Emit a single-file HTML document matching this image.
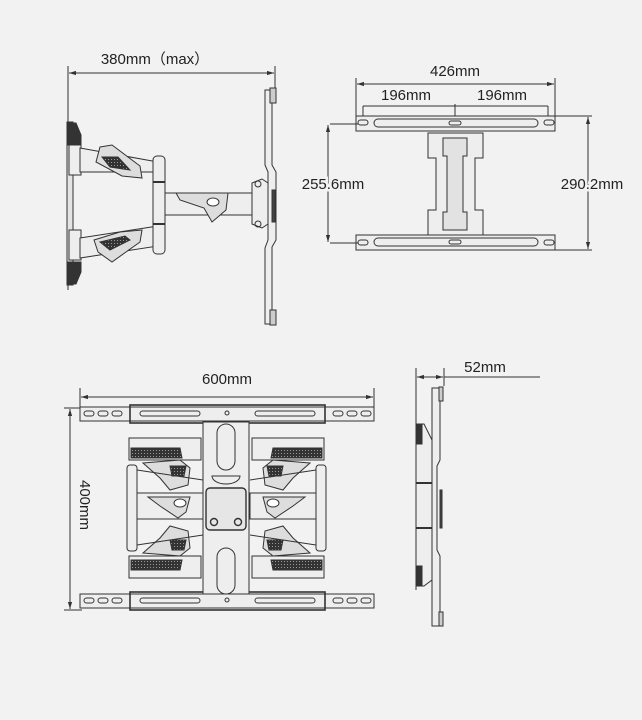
<!DOCTYPE html>
<html><head><meta charset="utf-8"><style>
html,body{margin:0;padding:0;background:#f2f2f2;}
svg{display:block}
text{font-family:"Liberation Sans","Noto Sans CJK SC",sans-serif;fill:#222;}
.halo{paint-order:stroke;stroke:#f2f2f2;stroke-width:5px;}
</style></head><body>
<svg width="642" height="720" viewBox="0 0 642 720" xmlns="http://www.w3.org/2000/svg">
<defs>
<marker id="a" viewBox="0 0 10 10" refX="10" refY="5" markerWidth="7" markerHeight="7" orient="auto-start-reverse"><path d="M0,2 L10,5 L0,8 z" fill="#333"/></marker>
<pattern id="h" width="3" height="3" patternUnits="userSpaceOnUse"><rect width="3" height="3" fill="#333"/><rect width="1" height="1" fill="#999"/></pattern>
</defs>
<g stroke="#333" stroke-width="1" fill="none">
<!-- ===== Top-left side view ===== -->
<line x1="68" y1="66" x2="68" y2="290"/>
<line x1="275" y1="66" x2="275" y2="92"/>
<line x1="69" y1="73" x2="274" y2="73" marker-start="url(#a)" marker-end="url(#a)"/>
<rect x="67" y="122" width="6" height="163" fill="#e4e4e4"/>
<path d="M68,123 h8 l5,12 v10 h-13z" fill="#333"/>
<path d="M68,284 h8 l5,-12 v-10 h-13z" fill="#333"/>
<rect x="69" y="145" width="12" height="30" fill="#eee"/>
<rect x="69" y="230" width="12" height="30" fill="#eee"/>
<path d="M80,148 L158,162 L158,172 L80,172z" fill="#eee"/>
<path d="M100,147 L112,145 L140,166 L142,178 L122,176 L96,162z" fill="#ddd"/>
<path d="M102,157 L118,157 L130,170 L110,167z" fill="url(#h)"/>
<path d="M80,238 L158,226 L158,246 L80,258z" fill="#eee"/>
<path d="M94,240 L120,232 L142,230 L140,242 L112,262 L98,252z" fill="#ddd"/>
<path d="M100,242 L125,236 L130,240 L110,250z" fill="url(#h)"/>
<rect x="153" y="156" width="12" height="98" rx="4" fill="#eee"/>
<line x1="153" y1="182" x2="165" y2="182" stroke-width="2"/>
<line x1="153" y1="224" x2="165" y2="224" stroke-width="2"/>
<rect x="165" y="193" width="89" height="22" fill="#eee"/>
<path d="M176,193 L228,193 L226,210 L212,222 L204,208 L180,200z" fill="#ddd"/>
<ellipse cx="213" cy="202" rx="6" ry="4" fill="#fff"/>
<path d="M252,183 L262,179 L268,183 L268,224 L262,228 L252,224z" fill="#eee"/>
<circle cx="258" cy="184" r="3"/><circle cx="258" cy="224" r="3"/>
<path d="M265,90 L272,90 L272,165 L276,172 L276,240 L272,247 L272,324 L265,324 L265,248 L268,240 L268,172 L265,165z" fill="#eee"/>
<rect x="270" y="88" width="6" height="15" fill="#ccc"/>
<rect x="270" y="310" width="6" height="15" fill="#ccc"/>
<rect x="272" y="190" width="3" height="32" fill="#444"/>

<!-- ===== Top-right front view ===== -->
<line x1="356" y1="78" x2="356" y2="118"/>
<line x1="555" y1="78" x2="555" y2="118"/>
<line x1="357" y1="84" x2="554" y2="84" marker-start="url(#a)" marker-end="url(#a)"/>
<line x1="363" y1="106" x2="548" y2="106"/>
<line x1="363" y1="106" x2="363" y2="122"/>
<line x1="548" y1="106" x2="548" y2="122"/>
<line x1="455" y1="104" x2="455" y2="122"/>
<rect x="356" y="116" width="199" height="15" fill="#eee"/>
<rect x="374" y="119" width="164" height="8" rx="4"/>
<rect x="358" y="120" width="10" height="5" rx="2.5"/>
<rect x="544" y="120" width="10" height="5" rx="2.5"/>
<rect x="449" y="121" width="12" height="4" rx="2"/>
<rect x="356" y="235" width="199" height="15" fill="#eee"/>
<rect x="374" y="238" width="164" height="8" rx="4"/>
<rect x="358" y="240" width="10" height="5" rx="2.5"/>
<rect x="544" y="240" width="10" height="5" rx="2.5"/>
<rect x="449" y="240" width="12" height="4" rx="2"/>
<path d="M428,133 h55 v25 h-8 v52 h8 v25 h-55 v-25 h8 v-52 h-8z" fill="#eee"/>
<path d="M443,138 h24 v18 h-4 v56 h4 v18 h-24 v-18 h4 v-56 h-4z" fill="#e2e2e2"/>
<line x1="330" y1="124" x2="358" y2="124"/>
<line x1="330" y1="243" x2="358" y2="243"/>
<line x1="328" y1="125" x2="328" y2="242" marker-start="url(#a)" marker-end="url(#a)"/>
<line x1="555" y1="116" x2="592" y2="116"/>
<line x1="555" y1="250" x2="592" y2="250"/>
<line x1="588" y1="117" x2="588" y2="249" marker-start="url(#a)" marker-end="url(#a)"/>

<!-- ===== Bottom-left front view ===== -->
<line x1="80" y1="388" x2="80" y2="410"/>
<line x1="374" y1="388" x2="374" y2="410"/>
<line x1="81" y1="397" x2="373" y2="397" marker-start="url(#a)" marker-end="url(#a)"/>
<line x1="64" y1="408" x2="82" y2="408"/>
<line x1="64" y1="610" x2="82" y2="610"/>
<line x1="70" y1="409" x2="70" y2="609" marker-start="url(#a)" marker-end="url(#a)"/>
<g id="rail">
<rect x="80" y="407" width="294" height="14" fill="#eee"/>
<rect x="130" y="405" width="195" height="18" fill="none" stroke-width="1.6"/>
<rect x="84" y="411" width="10" height="5" rx="2.5"/><rect x="98" y="411" width="10" height="5" rx="2.5"/><rect x="112" y="411" width="10" height="5" rx="2.5"/>
<rect x="333" y="411" width="10" height="5" rx="2.5"/><rect x="347" y="411" width="10" height="5" rx="2.5"/><rect x="361" y="411" width="10" height="5" rx="2.5"/>
<rect x="140" y="411" width="60" height="5" rx="2.5"/><rect x="255" y="411" width="60" height="5" rx="2.5"/>
<circle cx="227" cy="413" r="2"/>
</g>
<use href="#rail" y="187"/>
<rect x="203" y="422" width="46" height="172" fill="#eee"/>
<rect x="217" y="424" width="18" height="46" rx="9"/>
<rect x="217" y="548" width="18" height="46" rx="9"/>
<rect x="206" y="488" width="40" height="42" rx="4" fill="#e6e6e6" stroke-width="1.4"/>
<circle cx="214" cy="522" r="3.5" stroke-width="1.4"/><circle cx="238" cy="522" r="3.5" stroke-width="1.4"/>
<path d="M212,476 h28 a14,8 0 0 1 -28,0z"/>
<g id="side">
<rect x="129" y="438" width="72" height="22" fill="#eee"/>
<path d="M131,448 L180,448 L182,458 L131,458z" fill="url(#h)"/>
<rect x="129" y="556" width="72" height="22" fill="#eee"/>
<path d="M131,560 L182,560 L180,570 L131,570z" fill="url(#h)"/>
<rect x="127" y="465" width="10" height="86" rx="3" fill="#eee"/>
<rect x="137" y="493" width="66" height="26" fill="#eee"/>
<path d="M143,463 L180,460 L190,468 L188,485 L170,490 L160,478z" fill="#ddd"/>
<path d="M170,466 L186,466 L184,476 L172,476z" fill="url(#h)"/>
<path d="M143,553 L180,556 L190,548 L188,531 L170,526 L160,538z" fill="#ddd"/>
<path d="M170,540 L186,540 L184,550 L172,550z" fill="url(#h)"/>
<path d="M148,497 L190,497 L186,512 L178,518 L160,506z" fill="#ddd"/>
<ellipse cx="180" cy="503" rx="6" ry="4" fill="#fff"/>
<line x1="137" y1="470" x2="203" y2="480"/>
<line x1="137" y1="545" x2="203" y2="535"/>
</g>
<use href="#side" transform="translate(453,0) scale(-1,1)"/>

<!-- ===== Bottom-right side view ===== -->
<line x1="416" y1="368" x2="416" y2="590"/>
<line x1="444" y1="368" x2="444" y2="386"/>
<line x1="417" y1="377" x2="443" y2="377" marker-start="url(#a)" marker-end="url(#a)"/>
<line x1="444" y1="377" x2="540" y2="377"/>
<path d="M432,388 L440,388 L440,460 L437,466 L437,550 L440,556 L440,626 L432,626z" fill="#eee"/>
<rect x="439" y="387" width="4" height="14" fill="#ccc"/>
<rect x="439" y="612" width="4" height="14" fill="#ccc"/>
<rect x="440" y="490" width="2" height="38" fill="#444"/>
<path d="M416,424 L424,424 L432,440 L432,580 L424,586 L416,586z" fill="#eee"/>
<rect x="416" y="424" width="6" height="20" fill="#333"/>
<rect x="416" y="566" width="6" height="20" fill="#333"/>
<line x1="416" y1="483" x2="432" y2="483" stroke-width="2"/>
<line x1="416" y1="528" x2="432" y2="528" stroke-width="2"/>
</g>

<text x="155" y="64" font-size="15" text-anchor="middle">380mm（max）</text>
<text x="455" y="76" font-size="15" text-anchor="middle">426mm</text>
<text x="406" y="100" font-size="15" text-anchor="middle">196mm</text>
<text x="502" y="100" font-size="15" text-anchor="middle">196mm</text>
<text class="halo" x="333" y="189" font-size="15" text-anchor="middle">255.6mm</text>
<text class="halo" x="592" y="189" font-size="15" text-anchor="middle">290.2mm</text>
<text x="227" y="384" font-size="15" text-anchor="middle">600mm</text>
<text x="485" y="372" font-size="15" text-anchor="middle">52mm</text>
<text transform="translate(80,505) rotate(90)" font-size="15" text-anchor="middle">400mm</text>
</svg>
</body></html>
